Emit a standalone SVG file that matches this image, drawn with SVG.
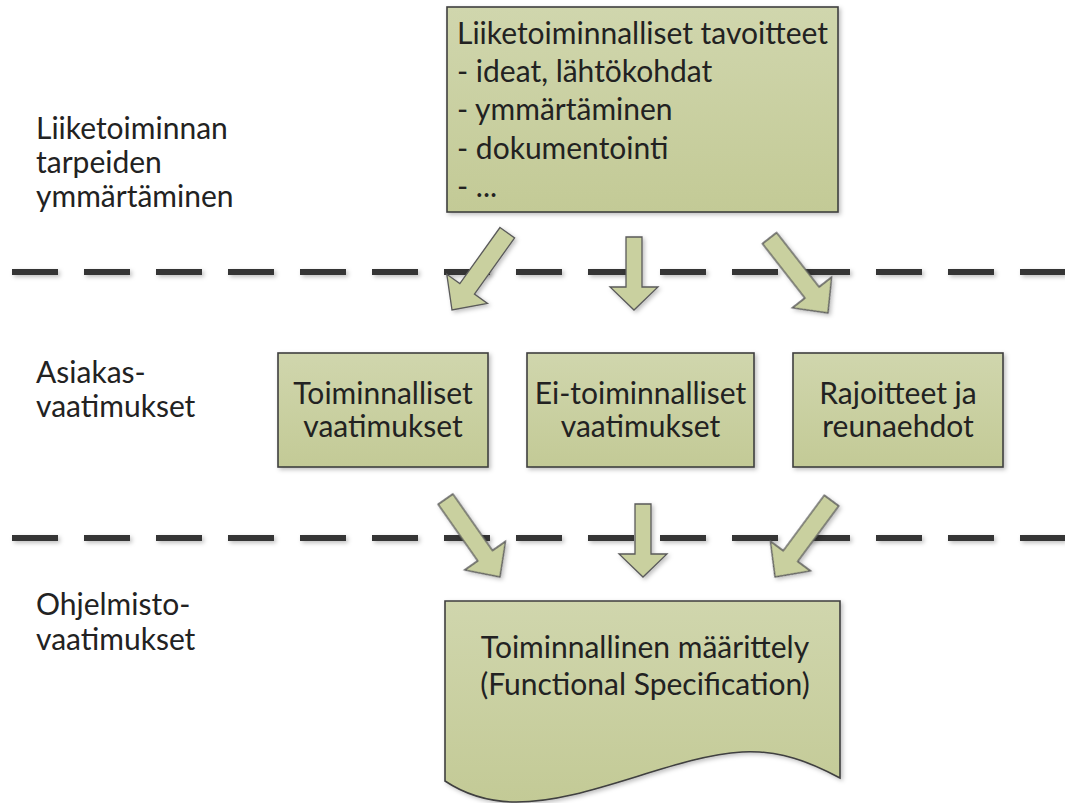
<svg xmlns="http://www.w3.org/2000/svg" width="1065" height="803" viewBox="0 0 1065 803">
<style>
.box{fill:url(#g);stroke:#3f3f3f;stroke-width:1.6}
.arr{fill:#c9d09f;stroke:#5a5a5a;stroke-width:1.3;stroke-linejoin:miter}
.t{font-family:Lato,"Liberation Sans",sans-serif;font-size:30px;fill:#222}
.c{text-anchor:middle}
.dash{stroke:#363636;stroke-width:6;stroke-dasharray:46 26;fill:none}
</style>
<defs>
<linearGradient id="g" x1="0" y1="0" x2="0" y2="1">
<stop offset="0" stop-color="#d0d6ad"/>
<stop offset="1" stop-color="#c3ca96"/>
</linearGradient>
<filter id="sh" x="-10%" y="-10%" width="130%" height="130%">
<feDropShadow dx="2" dy="2" stdDeviation="2" flood-color="#000" flood-opacity="0.25"/>
</filter>
<polygon id="straight" points="-8,-73 8,-73 8,-23 24,-23 0,0 -24,-23 -8,-23"/>
<polygon id="diag" points="-9,-95 9,-95 9,-26 25,-26 0,0 -25,-26 -9,-26"/>
</defs>
<rect width="1065" height="803" fill="#fff"/>

<g id="separators" filter="url(#sh)">
<line class="dash" x1="12" y1="272" x2="1065" y2="272"/>
<line class="dash" x1="12" y1="538" x2="1065" y2="538"/>
</g>

<g id="labels">
<text class="t" x="36" y="139">Liiketoiminnan</text>
<text class="t" x="36" y="173">tarpeiden</text>
<text class="t" x="36" y="207">ymmärtäminen</text>
<text class="t" x="36" y="383">Asiakas-</text>
<text class="t" x="36" y="417">vaatimukset</text>
<text class="t" x="36" y="615">Ohjelmisto-</text>
<text class="t" x="36" y="650">vaatimukset</text>
</g>

<g id="goals">
<rect class="box" x="447" y="7" width="391" height="205" filter="url(#sh)"/>
<text class="t" x="457" y="44">Liiketoiminnalliset tavoitteet</text>
<text class="t" x="457" y="82">- ideat, lähtökohdat</text>
<text class="t" x="457" y="120">- ymmärtäminen</text>
<text class="t" x="457" y="159">- dokumentointi</text>
<text class="t" x="457" y="197">- ...</text>
</g>

<g id="functional">
<rect class="box" x="278" y="353" width="210" height="114" filter="url(#sh)"/>
<text class="t c" x="383" y="404">Toiminnalliset</text>
<text class="t c" x="383" y="437">vaatimukset</text>
</g>
<g id="nonfunctional">
<rect class="box" x="527" y="353" width="227" height="114" filter="url(#sh)"/>
<text class="t c" x="640.5" y="404">Ei-toiminnalliset</text>
<text class="t c" x="640.5" y="437">vaatimukset</text>
</g>
<g id="constraints">
<rect class="box" x="793" y="353" width="210" height="114" filter="url(#sh)"/>
<text class="t c" x="898" y="404">Rajoitteet ja</text>
<text class="t c" x="898" y="437">reunaehdot</text>
</g>

<g id="spec">
<path class="box" filter="url(#sh)" d="M445,601 H840 V778 C810,762 780,750 742,752 C672,756 585,804 512,802 C485,801 463,793 445,781 Z"/>
<text class="t c" x="645" y="658">Toiminnallinen määrittely</text>
<text class="t c" x="645" y="695">(Functional Specification)</text>
</g>

<g id="connectors" filter="url(#sh)">
<use href="#diag" class="arr" transform="translate(452,310) rotate(35.6)"/>
<use href="#straight" class="arr" transform="translate(634,310)"/>
<use href="#diag" class="arr" transform="translate(828,313) rotate(-38)"/>
<use href="#diag" class="arr" transform="translate(500,577) rotate(-35)"/>
<use href="#straight" class="arr" transform="translate(643,577)"/>
<use href="#diag" class="arr" transform="translate(775,577) rotate(36.5)"/>
</g>
</svg>
